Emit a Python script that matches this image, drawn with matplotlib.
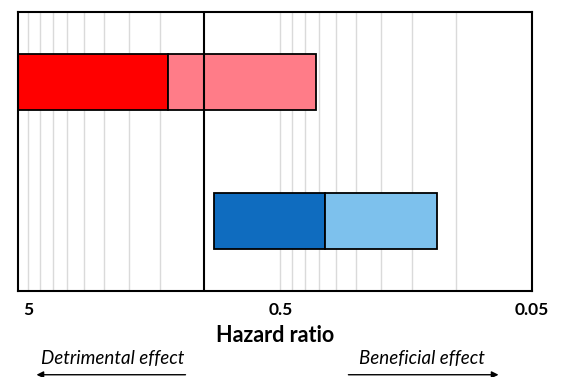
import matplotlib.pyplot as plt
import numpy as np
from matplotlib.patches import FancyArrowPatch

plt.rcParams["font.family"] = ["Lato", "DejaVu Sans"]

# hazard ratio bands
ROWS = [0.5, 1.5]
DARK_START = [5.5, 0.92]
DARK_END = [1.40, 0.331]
LIGHT_END = [0.36, 0.119]
DARK_COLORS = ["#FF0000", "#0F6CBF"]
LIGHT_COLORS = ["#FF7C88", "#7DC1ED"]

GRID_VALUES = [5, 4.5, 4, 3.5, 3, 2.5, 2, 1.5,
               0.5, 0.45, 0.4, 0.35, 0.3, 0.25, 0.2, 0.15, 0.1]
TICKS = [5, 0.5, 0.05]
TICK_LABELS = ["5", "0.5", "0.05"]
X_MIN, X_MAX = 5.5, 0.05

fig = plt.figure(figsize=(5.62, 3.77), dpi=100)
ax = fig.add_axes([0.032, 0.228, 0.915, 0.740])

ax.set_xscale("log")
ax.set_xlim(X_MIN, X_MAX)
ax.set_ylim(2, 0)

for g in GRID_VALUES:
    ax.axvline(g, color="#DADADA", lw=1, zorder=0)
# reference line at HR = 1 sits on top of the bars
ax.axvline(1, color="black", lw=1.5, zorder=3)

h = 0.4
for y, s, m, e, dc, lc in zip(ROWS, DARK_START, DARK_END, LIGHT_END, DARK_COLORS, LIGHT_COLORS):
    ax.barh(y, m - s, left=s, height=h, color=dc, edgecolor="black", linewidth=1.3, zorder=2)
    ax.barh(y, e - m, left=m, height=h, color=lc, edgecolor="black", linewidth=1.3, zorder=2)

ax.set_xticks(TICKS)
ax.set_xticklabels(TICK_LABELS, fontsize=12.5, fontweight="bold")
ax.xaxis.set_minor_locator(plt.NullLocator())
ax.tick_params(axis="x", length=0, pad=8)
ax.set_yticks([])
for sp in ax.spines.values():
    sp.set_linewidth(1.5)

ax.set_xlabel("Hazard ratio", fontsize=15.5, fontweight="bold", labelpad=5)

fig.text(0.20, 0.050, "Detrimental effect", fontsize=13.5, style="italic", ha="center", va="center")
fig.text(0.75, 0.050, "Beneficial effect", fontsize=13.5, style="italic", ha="center", va="center")
fig.add_artist(FancyArrowPatch(
    (0.335, 0.006), (0.060, 0.006), transform=fig.transFigure,
    arrowstyle="-|>", mutation_scale=10, lw=1, color="black"))
fig.add_artist(FancyArrowPatch(
    (0.615, 0.006), (0.892, 0.006), transform=fig.transFigure,
    arrowstyle="-|>", mutation_scale=10, lw=1, color="black"))

fig.savefig("out.png", dpi=100)
